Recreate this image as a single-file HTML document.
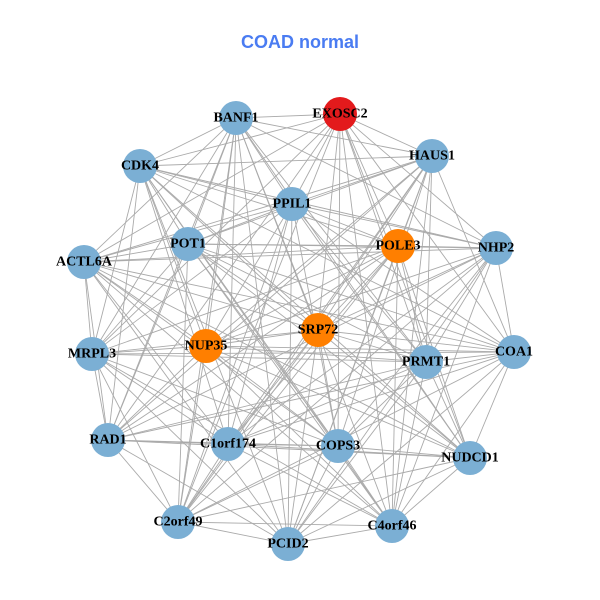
<!DOCTYPE html>
<html><head><meta charset="utf-8"><style>
html,body{margin:0;padding:0;background:#fff;width:600px;height:600px;overflow:hidden}
svg text.l{font-family:"Liberation Serif",serif;font-weight:bold;font-size:14px;fill:#000;text-anchor:middle;dominant-baseline:central}
</style></head><body>
<svg id="s" width="600" height="600" viewBox="0 0 600 600" xmlns="http://www.w3.org/2000/svg">
<rect width="600" height="600" fill="#fff"/>
<text x="300" y="48" text-anchor="middle" font-family="Liberation Sans,sans-serif" font-weight="bold" font-size="18" fill="#4a7cf2">COAD normal</text>
<g id="e" stroke="#aaaaaa" stroke-width="0.9"></g>
<g id="n"></g>
</svg>
<script>
var N=[["EXOSC2",340,114,"#e31a1c"],["BANF1",236,118],["HAUS1",432,156],["CDK4",140,166],["PPIL1",292,204],["POT1",188,244],["POLE3",398,246,"#ff7f00"],["NHP2",496,248],["ACTL6A",84,262],["SRP72",318,330,"#ff7f00"],["NUP35",206,346,"#ff7f00"],["COA1",514,352],["MRPL3",92,354],["PRMT1",426,362],["RAD1",108,440],["C1orf174",228,444],["COPS3",338,446],["NUDCD1",470,458],["C2orf49",178,522],["C4orf46",392,526],["PCID2",288,544]];
var ns="http://www.w3.org/2000/svg",e=document.getElementById("e"),g=document.getElementById("n");
for(var i=0;i<N.length;i++)for(var j=i+1;j<N.length;j++){if((i*7+j*3)%5==0)continue;var l=document.createElementNS(ns,"line");l.setAttribute("x1",N[i][1]);l.setAttribute("y1",N[i][2]);l.setAttribute("x2",N[j][1]);l.setAttribute("y2",N[j][2]);e.appendChild(l);}
N.forEach(function(d){var c=document.createElementNS(ns,"circle");c.setAttribute("cx",d[1]);c.setAttribute("cy",d[2]);c.setAttribute("r",17);c.setAttribute("fill",d[3]||"#7bafd4");g.appendChild(c);});
N.forEach(function(d){var t=document.createElementNS(ns,"text");t.setAttribute("x",d[1]);t.setAttribute("y",d[2]);t.setAttribute("class","l");t.textContent=d[0];g.appendChild(t);});
</script>
<noscript>EXOSC2 BANF1 HAUS1 CDK4 PPIL1 POT1 POLE3 NHP2 ACTL6A SRP72 NUP35 COA1 MRPL3 PRMT1 RAD1 C1orf174 COPS3 NUDCD1 C2orf49 C4orf46 PCID2</noscript>
</body></html>
